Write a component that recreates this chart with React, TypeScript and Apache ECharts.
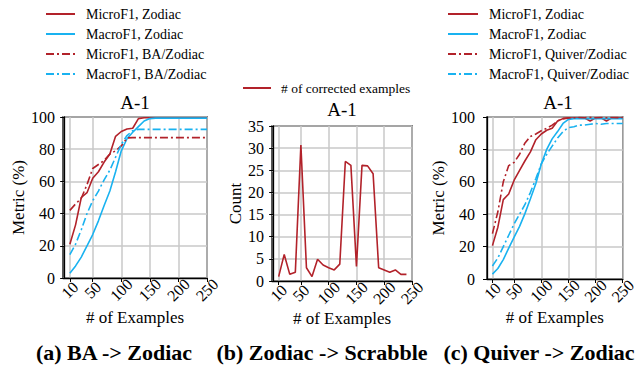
import React, { useEffect, useRef } from "react";
import * as echarts from "echarts";

const FONT = '"Liberation Serif", "Times New Roman", serif';
const RED = "#b2222a";
const BLUE = "#19b2f0";

const xTicks = [10, 50, 100, 150, 200, 250];
const xTicksFirst = [10];
const xTicksRest = [50, 100, 150, 200, 250];
const xsAC = [10, 20, 30, 40, 50, 60, 70, 80, 90, 100, 110, 120, 130, 140, 150, 160, 170, 180, 190, 200, 210, 220, 230, 240, 250];
const xsB = [10, 20, 30, 40, 50, 60, 70, 80, 90, 100, 110, 120, 130, 140, 150, 160, 170, 180, 190, 200, 210, 220, 230, 240];

// (a) BA -> Zodiac
const microZodiacA = [21, 33, 50, 53, 62, 66, 72, 77, 88, 91, 92.5, 93, 99, 99.5, 99.5, 99.5, 99.5, 99.5, 99.5, 99.5, 99.5, 99.5, 99.5, 99.5, 99.5];
const macroZodiacA = [3, 7.5, 13, 20, 27, 35.5, 45, 54, 66, 79, 86.5, 90.5, 94, 97.5, 99, 99.3, 99.3, 99.3, 99.3, 99.3, 99.3, 99.3, 99.3, 99.3, 99.3];
const microBAA = [42, 46, 49.5, 58, 68, 70.5, 73, 77, 79, 82, 87, 87.2, 87.2, 87.2, 87.2, 87.2, 87.2, 87.2, 87.2, 87.2, 87.2, 87.2, 87.2, 87.2, 87.2];
const macroBAA = [14.5, 21, 30, 40, 48, 54, 61, 67, 75, 83, 88.5, 91.5, 92.3, 92.3, 92.3, 92.3, 92.3, 92.3, 92.3, 92.3, 92.3, 92.3, 92.3, 92.3, 92.3];

// (b) Zodiac -> Scrabble
const correctedB = [1, 6, 1.5, 2, 30.7, 3, 1, 4.9, 3.6, 3, 2.5, 3.8, 27, 26.1, 3.3, 26.1, 26, 24.2, 3, 2.5, 2, 2.5, 1.5, 1.5];

// (c) Quiver -> Zodiac
const microZodiacC = [20.6, 32, 49, 52.5, 61, 67, 73, 78.5, 86, 89.5, 91.8, 93, 97.5, 99, 99.3, 99.3, 99.5, 99.3, 97.5, 99.5, 99.5, 97.5, 99.5, 99.5, 99.5];
const macroZodiacC = [3, 6.5, 12, 19, 25.8, 32.5, 40.5, 49.5, 59, 71, 80, 86.5, 91, 96, 98.5, 99, 99, 99, 99, 99, 99, 99, 99, 99, 99];
const microQuiverC = [28, 41.5, 60, 70, 72, 77, 84, 88, 89.5, 91.5, 93, 95, 97.5, 99, 99.5, 99.5, 99.7, 99.5, 99.8, 99.5, 99.7, 99.5, 99.7, 99.6, 99.7];
const macroQuiverC = [8, 13, 20, 27, 34, 40, 46, 53.5, 62, 71, 77, 82, 87, 91, 93.5, 94, 95, 95, 95.5, 96, 95.5, 96, 96, 96, 96];

const zip = (xs: number[], ys: number[]) => xs.map((x, i) => [x, ys[i]]);

const DASHDOT = [8, 3, 2, 3];

const xLabelStyle = {
  rotate: 45,
  align: "center",
  verticalAlign: "middle",
  margin: 12,
  showMinLabel: true,
  showMaxLabel: true,
  hideOverlap: false,
  fontFamily: FONT,
  fontSize: 16,
  color: "#000",
};

function makeX(gridIndex: number, min: number, nameGap: number) {
  return {
    type: "value",
    gridIndex,
    position: "bottom",
    min,
    max: 250,
    name: "# of Examples",
    nameLocation: "middle",
    nameGap,
    nameTextStyle: { fontFamily: FONT, fontSize: 17, color: "#000" },
    axisLine: { show: true, lineStyle: { color: "#000", width: 1.3 } },
    axisTick: { show: true, inside: false, length: 4, customValues: xTicks, lineStyle: { color: "#000", width: 1 } },
    axisLabel: { ...xLabelStyle, customValues: xTicksRest },
    splitLine: { show: true, lineStyle: { color: "#c8c8c8", width: 1.5 } },
  };
}

// companion axis carrying only the first tick label, so it is not dropped as overlapping
function makeXFirst(gridIndex: number, min: number) {
  return {
    type: "value",
    gridIndex,
    position: "bottom",
    min,
    max: 250,
    axisLine: { show: false },
    axisTick: { show: false },
    splitLine: { show: false },
    axisLabel: { ...xLabelStyle, customValues: xTicksFirst },
  };
}

function makeY(gridIndex: number, max: number, interval: number, name: string, margin: number, nameGap: number) {
  return {
    type: "value",
    gridIndex,
    min: 0,
    max,
    interval,
    name,
    nameLocation: "middle",
    nameGap,
    nameTextStyle: { fontFamily: FONT, fontSize: 17, color: "#000" },
    axisLine: { show: true, lineStyle: { color: "#000", width: 1.3 } },
    axisTick: { show: true, inside: false, length: 4, lineStyle: { color: "#000", width: 1 } },
    axisLabel: { margin, showMinLabel: true, showMaxLabel: true, fontFamily: FONT, fontSize: 16, color: "#000" },
    splitLine: { show: true, lineStyle: { color: "#c8c8c8", width: 1.5 } },
  };
}

function line(name: string, idx: number, data: number[][], color: string, dashed: boolean) {
  return {
    type: "line",
    name,
    xAxisIndex: idx,
    yAxisIndex: idx,
    data,
    symbol: "none",
    showSymbol: false,
    lineStyle: { color, width: 1.6, type: dashed ? DASHDOT : "solid" },
    itemStyle: { color },
    z: 3,
  };
}

export default function App() {
  const ref = useRef<HTMLDivElement>(null);
  useEffect(() => {
    const chart = echarts.init(ref.current!, null, { renderer: "svg" });
    const legendBase = {
      orient: "vertical",
      padding: 0,
      itemHeight: 14,
      itemGap: 6,
      itemStyle: { opacity: 0 },
      textStyle: { fontFamily: FONT, fontSize: 14, color: "#000", padding: [0, 0, 0, 6] },
    };
    const option: any = {
      animation: false,
      backgroundColor: "#fff",
      grid: [
        { left: 63, top: 117, width: 144, height: 161, show: true, borderColor: "#000", borderWidth: 1.3 },
        { left: 272, top: 126, width: 140, height: 155, show: true, borderColor: "#000", borderWidth: 1.3 },
        { left: 487, top: 117, width: 142, height: 162, show: true, borderColor: "#000", borderWidth: 1.3 },
      ],
      xAxis: [
        makeX(0, -2, 31),
        makeX(1, -2, 28),
        makeX(2, 0, 30),
        makeXFirst(0, -2),
        makeXFirst(1, -2),
        makeXFirst(2, 0),
      ],
      yAxis: [
        makeY(0, 100, 20, "Metric (%)", 8, 34),
        makeY(1, 35, 5, "Count", 8, 27),
        makeY(2, 100, 20, "Metric (%)", 12, 38),
      ],
      legend: [
        {
          ...legendBase,
          left: 45,
          top: 7,
          itemWidth: 29,
          data: ["MicroF1, Zodiac", "MacroF1, Zodiac", "MicroF1, BA/Zodiac", "MacroF1, BA/Zodiac"],
        },
        {
          ...legendBase,
          left: 242,
          top: 81,
          itemWidth: 28,
          textStyle: { fontFamily: FONT, fontSize: 13.5, color: "#000", padding: [0, 0, 0, 5] },
          data: ["# of corrected examples"],
        },
        {
          ...legendBase,
          left: 447,
          top: 7,
          itemWidth: 30,
          data: ["MicroF1, Zodiac", "MacroF1, Zodiac", "MicroF1, Quiver/Zodiac", "MacroF1, Quiver/Zodiac"],
        },
      ],
      series: [
        line("MicroF1, Zodiac", 0, zip(xsAC, microZodiacA), RED, false),
        line("MacroF1, Zodiac", 0, zip(xsAC, macroZodiacA), BLUE, false),
        line("MicroF1, BA/Zodiac", 0, zip(xsAC, microBAA), RED, true),
        line("MacroF1, BA/Zodiac", 0, zip(xsAC, macroBAA), BLUE, true),
        line("# of corrected examples", 1, zip(xsB, correctedB), RED, false),
        line("MicroF1, Zodiac", 2, zip(xsAC, microZodiacC), RED, false),
        line("MacroF1, Zodiac", 2, zip(xsAC, macroZodiacC), BLUE, false),
        line("MicroF1, Quiver/Zodiac", 2, zip(xsAC, microQuiverC), RED, true),
        line("MacroF1, Quiver/Zodiac", 2, zip(xsAC, macroQuiverC), BLUE, true),
      ],
      graphic: [
        { type: "text", x: 135, y: 102, style: { text: "A-1", font: `19px ${FONT}`, fill: "#000", textAlign: "center", textVerticalAlign: "middle" } },
        { type: "text", x: 342, y: 109, style: { text: "A-1", font: `19px ${FONT}`, fill: "#000", textAlign: "center", textVerticalAlign: "middle" } },
        { type: "text", x: 558, y: 102, style: { text: "A-1", font: `19px ${FONT}`, fill: "#000", textAlign: "center", textVerticalAlign: "middle" } },
        { type: "text", x: 114, y: 352, style: { text: "(a) BA -> Zodiac", font: `bold 22px ${FONT}`, fill: "#000", textAlign: "center", textVerticalAlign: "middle" } },
        { type: "text", x: 322, y: 352, style: { text: "(b) Zodiac -> Scrabble", font: `bold 22px ${FONT}`, fill: "#000", textAlign: "center", textVerticalAlign: "middle" } },
        { type: "text", x: 539, y: 352, style: { text: "(c) Quiver -> Zodiac", font: `bold 22px ${FONT}`, fill: "#000", textAlign: "center", textVerticalAlign: "middle" } },
      ],
    };
    chart.setOption(option);
    return () => chart.dispose();
  }, []);
  return (
    <div
      ref={ref}
      style={{ position: "fixed", left: 0, top: 0, width: 639, height: 368, background: "#fff" }}
    />
  );
}
